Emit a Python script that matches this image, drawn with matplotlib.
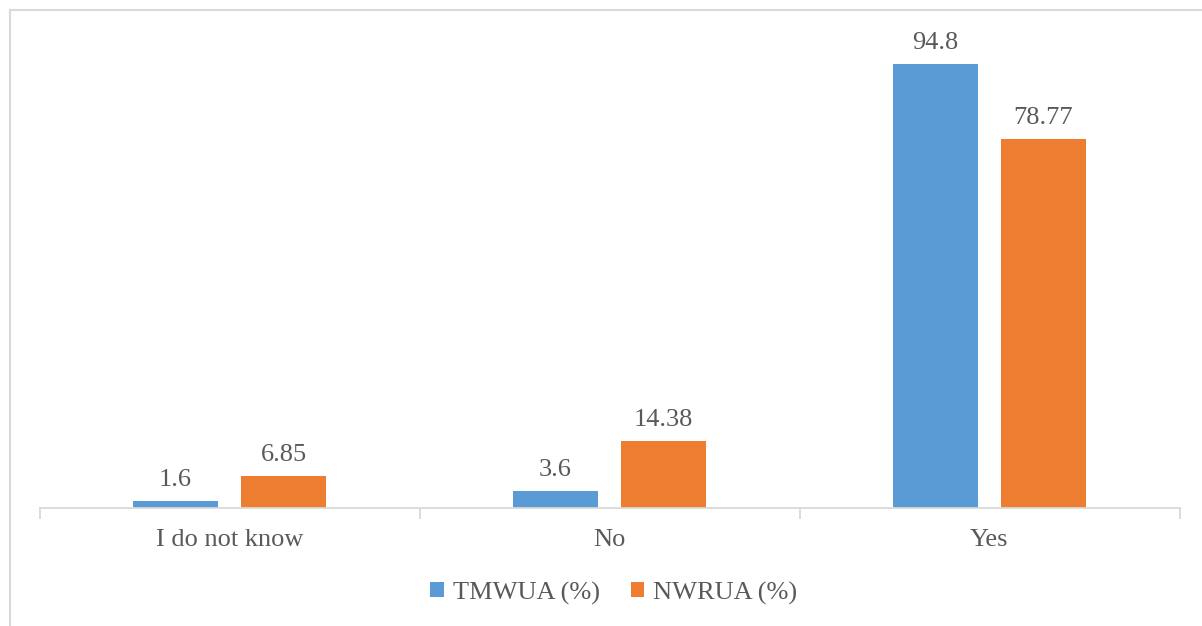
import matplotlib.pyplot as plt
import numpy as np
from matplotlib.lines import Line2D

categories = ["I do not know", "No", "Yes"]
tmwua = [1.6, 3.6, 94.8]
nwrua = [6.85, 14.38, 78.77]
tmwua_labels = ["1.6", "3.6", "94.8"]
nwrua_labels = ["6.85", "14.38", "78.77"]

blue = "#5B9BD5"
orange = "#ED7D31"
grey = "#595959"
line_grey = "#D9D9D9"

plt.rcParams['font.family'] = ['Liberation Serif', 'DejaVu Serif']

W, H = 1202, 626
fig = plt.figure(figsize=(W / 100, H / 100), dpi=100)
ax = fig.add_axes([39.5 / W, 118 / H, 1140 / W, 468.4 / H])

x = np.arange(len(categories))
bw = 0.224
off = 0.142
b1 = ax.bar(x - off, tmwua, bw, color=blue, label="TMWUA (%)")
b2 = ax.bar(x + off, nwrua, bw, color=orange, label="NWRUA (%)")

for bars, labs in ((b1, tmwua_labels), (b2, nwrua_labels)):
    for b, t in zip(bars, labs):
        ax.annotate(t, (b.get_x() + b.get_width() / 2, b.get_height()),
                    xytext=(0, 7), textcoords="offset points",
                    ha="center", va="bottom", fontsize=19, color=grey)

ax.set_xlim(-0.5, 2.5)
ax.set_ylim(0, 100)
for s in ["top", "right", "left"]:
    ax.spines[s].set_visible(False)
ax.spines["bottom"].set_color(line_grey)
ax.spines["bottom"].set_linewidth(1.3)
ax.set_yticks([])

ax.set_xticks(x)
ax.set_xticklabels(categories, fontsize=19, color=grey)
ax.tick_params(axis="x", which="major", length=0, pad=15)
ax.set_xticks([-0.5, 0.5, 1.5, 2.5], minor=True)
ax.tick_params(axis="x", which="minor", length=8, width=1.3, color=line_grey)

ax.legend(loc="center", bbox_to_anchor=(614 / W, 1 - 593 / H),
          bbox_transform=fig.transFigure, ncol=2, frameon=False,
          fontsize=19, labelcolor=grey, handlelength=0.5, handleheight=0.5,
          handletextpad=0.34, columnspacing=1.2)

# chart area border (left and top visible)
fig.add_artist(Line2D([10 / W, 10 / W], [0, 1 - 10 / H], color=line_grey,
                      lw=1.5, transform=fig.transFigure))
fig.add_artist(Line2D([10 / W, 1], [1 - 10 / H, 1 - 10 / H], color=line_grey,
                      lw=1.5, transform=fig.transFigure))

fig.savefig("out.png", dpi=100)
